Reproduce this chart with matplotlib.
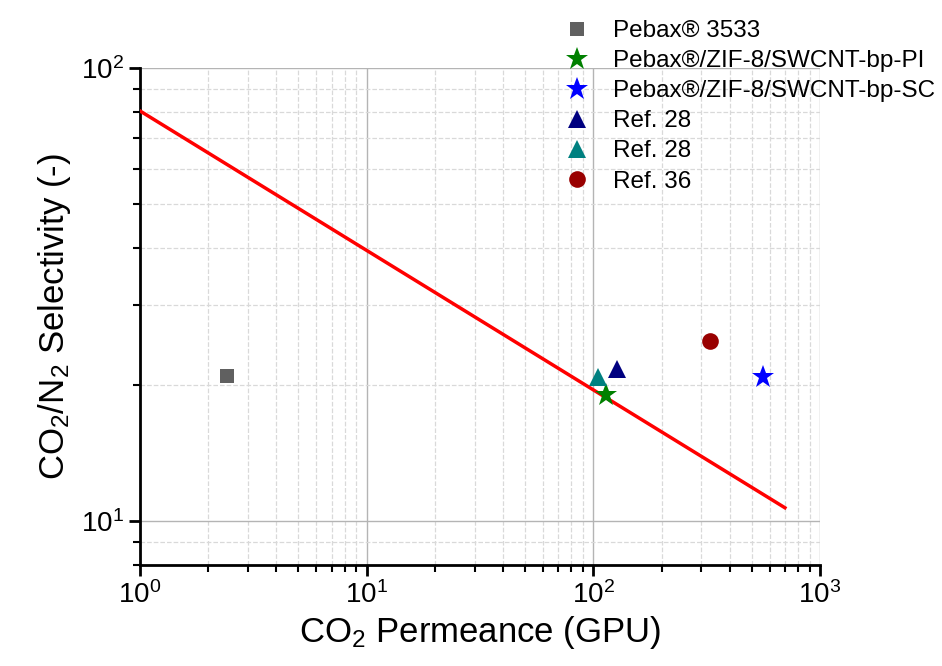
import numpy as np
import matplotlib
matplotlib.use("Agg")
import matplotlib.pyplot as plt
from matplotlib.ticker import LogLocator, NullFormatter

plt.rcParams['font.family'] = ['Liberation Sans', 'DejaVu Sans']
plt.rcParams['mathtext.fontset'] = 'custom'
plt.rcParams['mathtext.rm'] = 'Liberation Sans'
plt.rcParams['mathtext.it'] = 'Liberation Sans:italic'

# upper bound line
bound_x = [1, 700]
bound_y = [80.4, 10.7]

# data points (CO2 permeance, CO2/N2 selectivity)
labels = ["Pebax\u00ae 3533", "Pebax\u00ae/ZIF-8/SWCNT-bp-PI", "Pebax\u00ae/ZIF-8/SWCNT-bp-SC",
          "Ref. 28", "Ref. 28", "Ref. 36"]
perm = [2.42, 113.6, 560, 127, 104.8, 327]
sel = [20.9, 19.0, 20.8, 21.7, 20.8, 25.0]
markers = ['s', '*', '*', '^', '^', 'o']
colors = ['#606060', '#008000', '#0000ff', '#000080', '#008080', '#990000']
sizes = [10, 17, 17, 13, 13, 12]

fig = plt.figure(figsize=(9.42, 6.66), dpi=100)
ax = fig.add_axes([0.1486, 0.1517, 0.7219, 0.7462])

ax.set_xscale('log')
ax.set_yscale('log')
ax.set_xlim(1, 1000)
ax.set_ylim(8, 100)

# grid
ax.grid(which='major', color='#b4b4b4', linestyle='-', linewidth=1)
ax.grid(which='minor', color='#d9d9d9', linestyle='--', linewidth=0.9)
ax.set_axisbelow(True)

ax.plot(bound_x, bound_y, color='red', linewidth=2.5, zorder=3)

handles = []
for i in range(len(labels)):
    h, = ax.plot(perm[i], sel[i], linestyle='none', marker=markers[i], color=colors[i],
                 markersize=sizes[i], markeredgewidth=0, label=labels[i], zorder=4)
    handles.append(h)

for s in ['top', 'right']:
    ax.spines[s].set_visible(False)
for s in ['left', 'bottom']:
    ax.spines[s].set_linewidth(2)

ax.xaxis.set_minor_locator(LogLocator(base=10, subs=np.arange(2, 10)))
ax.yaxis.set_minor_locator(LogLocator(base=10, subs=np.arange(2, 10)))
ax.xaxis.set_minor_formatter(NullFormatter())
ax.yaxis.set_minor_formatter(NullFormatter())
ax.tick_params(which='major', direction='out', length=8, width=2, labelsize=20)
ax.tick_params(which='minor', direction='out', length=5, width=1.5)

ax.set_xlabel('CO$_2$ Permeance (GPU)', fontsize=25, labelpad=4)
ax.set_ylabel('CO$_2$/N$_2$ Selectivity (-)', fontsize=25, labelpad=6)

fig.legend(handles=handles, loc='upper left', bbox_to_anchor=(0.578, 0.995),
           frameon=False, fontsize=17.5, handletextpad=0.83, labelspacing=0.33,
           handlelength=1.3, borderpad=0.2)

fig.savefig('out.png', dpi=100)
